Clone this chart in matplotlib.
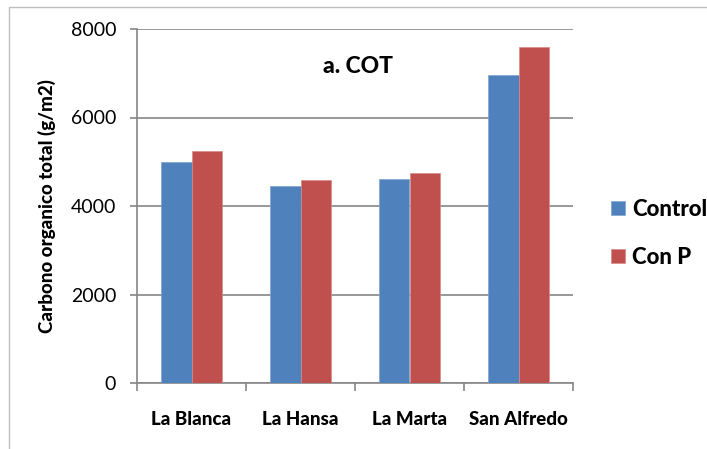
import matplotlib
matplotlib.use("Agg")
import matplotlib.pyplot as plt
from matplotlib.patches import Rectangle
import numpy as np

plt.rcParams['font.family'] = ['Lato', 'DejaVu Sans']

categories = ["La Blanca", "La Hansa", "La Marta", "San Alfredo"]
control = [5000, 4450, 4600, 6950]
con_p = [5250, 4580, 4750, 7600]
series_names = ["Control", "Con P"]
yticks = [0, 2000, 4000, 6000, 8000]

blue = "#4F81BD"
red = "#C0504D"
grid_c = "#868686"

fig = plt.figure(figsize=(7.07, 4.49), dpi=100)
ax = fig.add_axes([137/707, 1-383/449, (573-137)/707, (383-29)/449])

x = np.arange(len(categories))
w = 0.284
ax.bar(x - w/2, control, w, color=blue, edgecolor="#7fa3d1", linewidth=0.5, label=series_names[0], zorder=3)
ax.bar(x + w/2, con_p, w, color=red, edgecolor="#d88a88", linewidth=0.5, label=series_names[1], zorder=3)

ax.set_xlim(-0.5, len(categories) - 0.5)
ax.set_ylim(0, 8000)
ax.set_yticks(yticks)
ax.set_yticklabels([str(v) for v in yticks], fontsize=14)
ax.yaxis.grid(True, color=grid_c, linewidth=1.2, zorder=0)
ax.set_axisbelow(True)

ax.set_xticks(np.arange(len(categories) + 1) - 0.5)
ax.set_xticklabels([])
ax.set_xticks(x, minor=True)
ax.set_xticklabels(categories, minor=True, fontsize=13.5, fontweight='black')
ax.tick_params(axis='x', which='minor', length=0, pad=20)
ax.tick_params(axis='x', which='major', length=6, color=grid_c, width=1.2, direction='out')
ax.tick_params(axis='y', length=5, color=grid_c, width=1.2, pad=10)

for s in ['top', 'right']:
    ax.spines[s].set_visible(False)
for s in ['left', 'bottom']:
    ax.spines[s].set_color(grid_c)
    ax.spines[s].set_linewidth(1.2)

ax.set_ylabel("Carbono organico total (g/m2)", fontsize=13.5, fontweight='black')
ax.yaxis.set_label_coords(-0.185, 0.5)

ax.text(1.53, 7150, "a. COT", fontsize=16.5, fontweight='black', ha='center', va='center')

leg = fig.legend(loc='upper left', bbox_to_anchor=(602/707, 1-190/449), frameon=False,
                 prop={'size': 16, 'weight': 'black'}, handlelength=0.62, handleheight=0.62,
                 handletextpad=0.35, labelspacing=1.2, borderaxespad=0)

# outer chart border
fig.patches.append(Rectangle((9/707, -0.1), 1.2, 1 - 7/449 + 0.1, transform=fig.transFigure,
                             fill=False, edgecolor="#bfbfbf", linewidth=1))

fig.savefig("out.png", dpi=100)
